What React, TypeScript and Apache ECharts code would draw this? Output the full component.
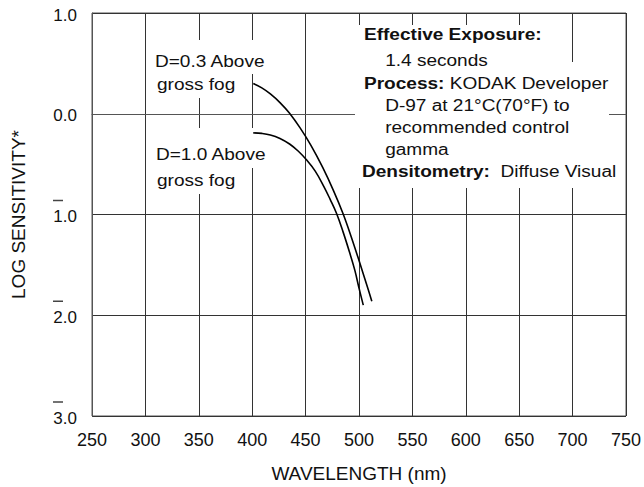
import React, { useEffect, useRef } from "react";
import * as echarts from "echarts";

// ---- data ----
const wavelengthRange = [250, 750];
const wavelengthStep = 50;
const logSensRange = [-3, 1];
const logSensStep = 1;

// D = 0.3 above gross fog
const curveD03: [number, number][] = [
  [401, 0.3], [409, 0.257], [417, 0.197], [426, 0.111], [435, 0.005], [445, -0.143],
  [455, -0.314], [466, -0.533], [476, -0.76], [485, -0.99], [493, -1.23],
  [501, -1.49], [507, -1.69], [512, -1.86],
];
// D = 1.0 above gross fog
const curveD10: [number, number][] = [
  [401, -0.19], [409, -0.195], [417, -0.21], [426, -0.245], [435, -0.3],
  [443, -0.37], [451, -0.46], [459, -0.57], [467, -0.72], [473, -0.85],
  [479, -0.99], [485, -1.17], [491, -1.37], [496, -1.55], [500, -1.73], [504, -1.9],
];

const xAxisTitle = "WAVELENGTH (nm)";
const yAxisTitle = "LOG SENSITIVITY*";
const labelD03 = ["D=0.3 Above", "gross fog"];
const labelD10 = ["D=1.0 Above", "gross fog"];
const infoLines = [
  "{b|Effective Exposure:}",
  "    1.4 seconds",
  "{b|Process:} KODAK Developer",
  "    D-97 at 21°C(70°F) to",
  "    recommended control",
  "    gamma",
  "{b|Densitometry:}  Diffuse Visual",
];

const FONT = "'Liberation Sans', Arial, Helvetica, sans-serif";
const INK = "#111";

export default function App() {
  const ref = useRef<HTMLDivElement>(null);
  useEffect(() => {
    document.body.style.margin = "0";
    if (!ref.current) return;
    const chart = echarts.init(ref.current, undefined, { renderer: "svg" });

    const textStyle = (extra: any = {}) => ({
      fontSize: 16,
      fontFamily: FONT,
      fill: INK,
      verticalAlign: "middle",
      align: "left",
      rich: {
        b: { fontSize: 16, fontFamily: FONT, fontWeight: "bold", fill: INK },
      },
      ...extra,
    });
    const SX = 1.19;
    const txt = (s: string, x: number, y: number) => ({
      type: "text",
      x,
      y,
      scaleX: SX,
      z: 10,
      style: textStyle({ text: s }),
    });
    const white = (x1: number, y1: number, x2: number, y2: number) => ({
      type: "rect",
      z: 1,
      shape: { x: x1, y: y1, width: x2 - x1, height: y2 - y1 },
      style: { fill: "#fff" },
    });

    const infoY = [35, 61, 84, 106, 128, 150, 172];
    const infoX = 364;

    const graphic: any[] = [
      white(150, 40, 272, 74),
      white(150, 74, 242, 98),
      white(150, 128, 272, 168),
      white(150, 168, 242, 194),
      white(355, 25, 546, 62),
      white(355, 62, 609, 188),
      txt(labelD03[0], 155, 62),
      txt(labelD03[1], 157, 85),
      txt(labelD10[0], 156, 155),
      txt(labelD10[1], 157, 181),
      ...infoLines.map((s, i) => txt(s, i === 6 ? infoX - 2 : infoX, infoY[i])),
    ];

    const axisCommon = {
      type: "value",
      axisLine: { show: true, lineStyle: { color: "#555", width: 1 } },
      axisTick: { show: false },
      splitLine: { show: true, lineStyle: { color: "#333", width: 1 } },
      nameLocation: "middle",
      nameTextStyle: { fontSize: 19, color: INK, fontFamily: FONT },
    };

    chart.setOption({
      animation: false,
      backgroundColor: "#fff",
      textStyle: { fontFamily: FONT },
      grid: {
        left: 92,
        top: 13,
        right: 18,
        bottom: 71,
        containLabel: false,
        outerBoundsMode: "none",
        show: true,
        borderColor: "#555",
        borderWidth: 1,
      },
      xAxis: {
        ...axisCommon,
        min: wavelengthRange[0],
        max: wavelengthRange[1],
        interval: wavelengthStep,
        name: xAxisTitle,
        nameGap: 48,
        axisLabel: { fontSize: 18, color: INK, margin: 15, fontFamily: FONT },
      },
      yAxis: {
        ...axisCommon,
        min: logSensRange[0],
        max: logSensRange[1],
        interval: logSensStep,
        name: yAxisTitle,
        nameGap: 64,
        axisLabel: {
          margin: 15,
          align: "right",
          padding: [0, 0, 11, 0],
          formatter: (v: number) => {
            const digits = Math.abs(v).toFixed(1);
            return v < 0
              ? `{bar| }{sp| }\n{n|${digits}}`
              : `{nobar| }{sp| }\n{n|${digits}}`;
          },
          rich: {
            bar: { width: 10, height: 1.5, lineHeight: 15, backgroundColor: "#444" },
            nobar: { width: 10, height: 1.5, lineHeight: 15 },
            sp: { width: 14, lineHeight: 15 },
            n: { fontSize: 17, lineHeight: 17, color: INK, fontFamily: FONT },
          },
        },
      },
      series: [
        {
          type: "line",
          name: "D=0.3",
          data: curveD03,
          smooth: 0.4,
          symbol: "none",
          z: 5,
          lineStyle: { color: "#000", width: 1.6 },
        },
        {
          type: "line",
          name: "D=1.0",
          data: curveD10,
          smooth: 0.4,
          symbol: "none",
          z: 5,
          lineStyle: { color: "#000", width: 1.6 },
        },
      ],
      graphic,
    });
    return () => chart.dispose();
  }, []);
  return <div ref={ref} style={{ width: 644, height: 487 }} />;
}
